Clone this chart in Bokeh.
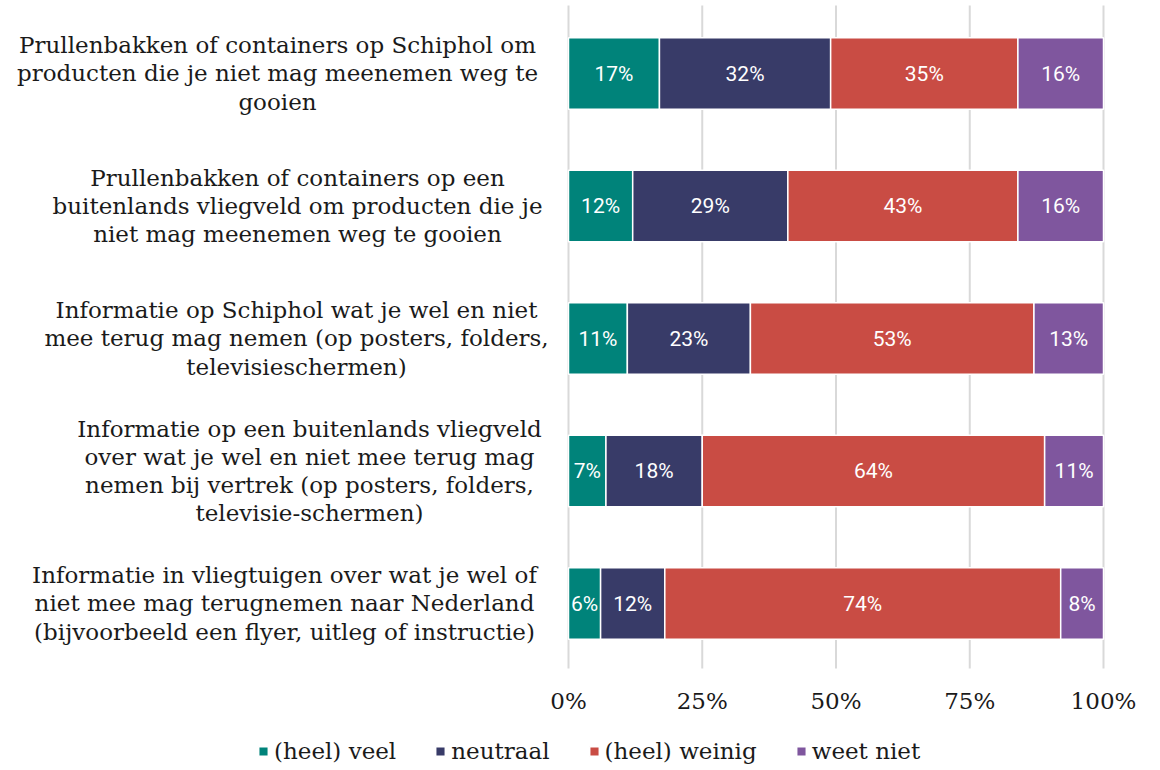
from bokeh.plotting import figure
from bokeh.models import ColumnDataSource, Legend, LegendItem, Range1d
from bokeh.core.properties import value
from bokeh.embed import file_html
from bokeh.resources import INLINE

categories = [
    "Prullenbakken of containers op Schiphol om\nproducten die je niet mag meenemen weg te\ngooien",
    "Prullenbakken of containers op een\nbuitenlands vliegveld om producten die je\nniet mag meenemen weg te gooien",
    "Informatie op Schiphol wat je wel en niet\nmee terug mag nemen (op posters, folders,\ntelevisieschermen)",
    "Informatie op een buitenlands vliegveld\nover wat je wel en niet mee terug mag\nnemen bij vertrek (op posters, folders,\ntelevisie-schermen)",
    "Informatie in vliegtuigen over wat je wel of\nniet mee mag terugnemen naar Nederland\n(bijvoorbeeld een flyer, uitleg of instructie)",
]
series = ["(heel) veel", "neutraal", "(heel) weinig", "weet niet"]
heel_veel = [17, 12, 11, 7, 6]
neutraal = [32, 29, 23, 18, 12]
heel_weinig = [35, 43, 53, 64, 74]
weet_niet = [16, 16, 13, 11, 8]
colors = ["#00837a", "#383b68", "#c94c44", "#7f569e"]
tick_values = [0, 25, 50, 75, 100]
tick_labels = ["0%", "25%", "50%", "75%", "100%"]

SERIF = "DejaVu Serif"
SANS = "Roboto"

# layout (pixels)
W, H = 1150, 770
PX_X = 5.35          # px per percent
ZERO_X = 568         # px of 0%
ROW = 132.5          # px per category row
ROW0 = 73            # px centre of first row
LABEL_CENTRES_PX = [277, 297, 296, 309, 284]   # centre of each (right-aligned) label block

def ypx(px):
    return (px - ROW0) / ROW

x_start = -ZERO_X / PX_X
x_end = x_start + W / PX_X

p = figure(
    width=W, height=H,
    x_range=Range1d(x_start, x_end),
    y_range=Range1d(ypx(H), ypx(0)),
    output_backend="svg", toolbar_location=None,
    min_border_left=0, min_border_right=0, min_border_top=0, min_border_bottom=0,
)
p.outline_line_color = None
p.background_fill_color = "white"
p.xaxis.visible = False
p.yaxis.visible = False
p.xgrid.grid_line_color = None
p.ygrid.grid_line_color = None

rows = list(range(len(categories)))

# vertical gridlines at the tick values
p.segment(x0=tick_values, x1=tick_values,
          y0=[ypx(5)] * len(tick_values), y1=[ypx(668)] * len(tick_values),
          line_color="#d9d9d9", line_width=2)

all_vals = [heel_veel, neutraal, heel_weinig, weet_niet]
left = [0] * len(categories)
renderers = []
for name, vals, col in zip(series, all_vals, colors):
    right = [l + v for l, v in zip(left, vals)]
    mid = [(l + r) / 2 for l, r in zip(left, right)]
    src = ColumnDataSource(dict(
        y=rows, left=left, right=right, mid=mid,
        lab=[f"{v}%" for v in vals],
    ))
    r = p.hbar(y="y", left="left", right="right", height=0.54, source=src,
               fill_color=col, line_color="white", line_width=1.5)
    renderers.append((name, r))
    p.text(x="mid", y="y", text="lab", source=src, text_align="center",
           text_baseline="middle", text_color="white",
           text_font=value(SANS), text_font_size="21px")
    left = right

# category labels
lab_x = [x_start + c / PX_X for c in LABEL_CENTRES_PX]
lsrc = ColumnDataSource(dict(x=lab_x, y=rows, t=categories))
p.text(x="x", y="y", text="t", source=lsrc, text_align="center", text_baseline="middle",
       text_color="#1a1a1a", text_font=value(SERIF), text_font_size="23px",
       text_line_height=1.08)

# x tick labels
tsrc = ColumnDataSource(dict(x=tick_values, y=[ypx(700)] * len(tick_values), t=tick_labels))
p.text(x="x", y="y", text="t", source=tsrc, text_align="center", text_baseline="middle",
       text_color="#1a1a1a", text_font=value(SERIF), text_font_size="23px")

legend = Legend(
    items=[LegendItem(label=n, renderers=[r]) for n, r in renderers],
    orientation="horizontal", location=(257, 6),
    border_line_color=None, background_fill_alpha=0,
    glyph_width=12, glyph_height=12, label_standoff=5, spacing=38,
    label_text_font=SERIF, label_text_font_size="23px", label_text_color="#1a1a1a",
    label_height=24, padding=0, margin=0,
)
p.add_layout(legend, "center")

open("out.html", "w").write(file_html(p, INLINE))
